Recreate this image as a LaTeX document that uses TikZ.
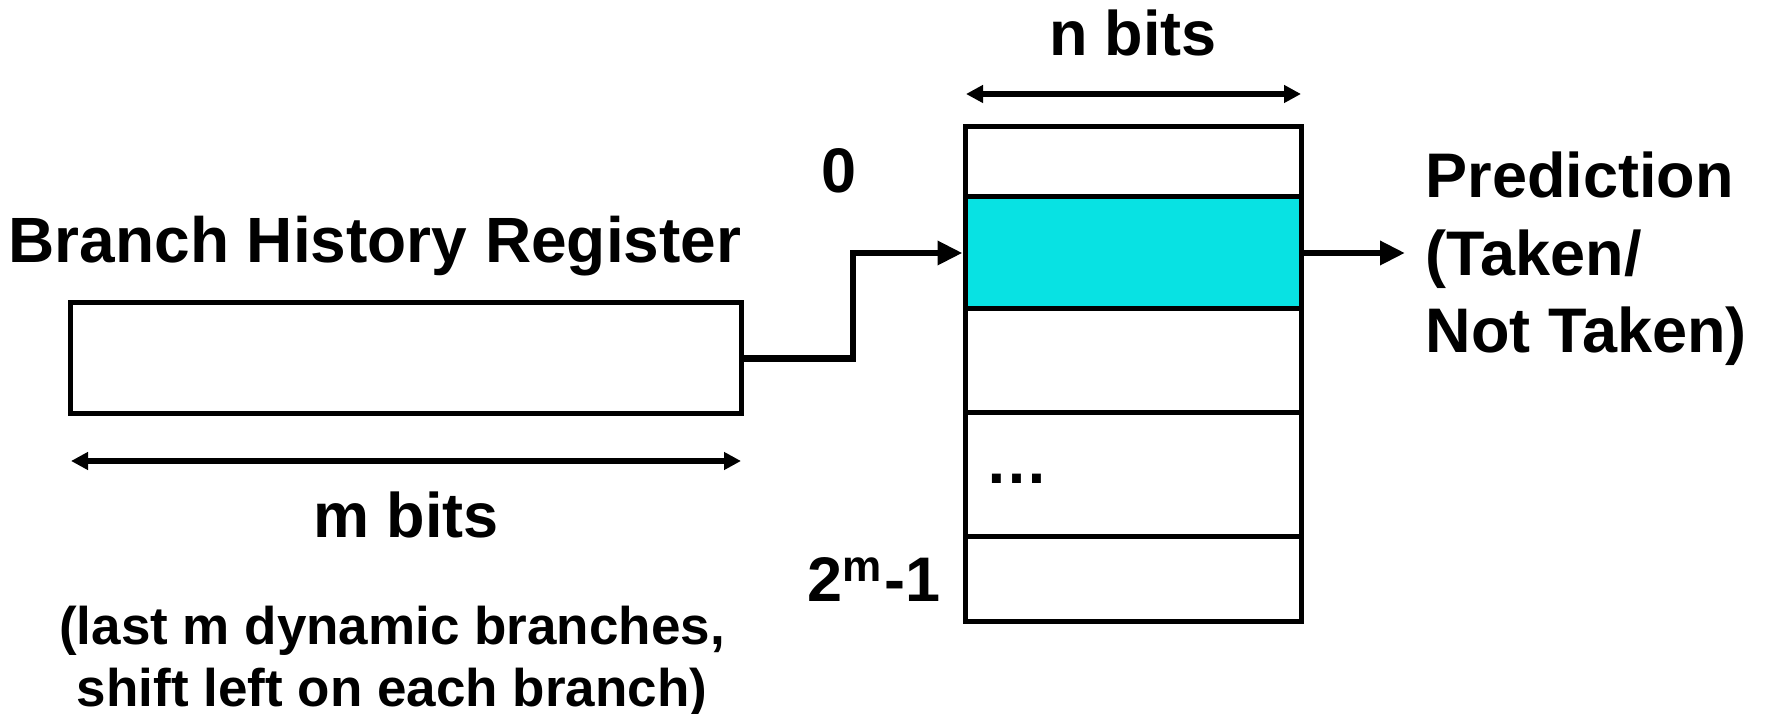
\documentclass[tikz,border=0pt]{standalone}
\usepackage{fontspec}
\setmainfont{Liberation Sans}
\usetikzlibrary{arrows.meta}
\definecolor{cyanrow}{RGB}{8,226,227}
\begin{document}
\begin{tikzpicture}[x=0.25pt,y=-0.25pt,
  txt/.style={font=\fontsize{15.75pt}{19.25pt}\selectfont\bfseries, inner sep=0pt},
  smalltxt/.style={font=\fontsize{13.25pt}{16pt}\selectfont\bfseries, inner sep=0pt},
  cell/.style={draw, line width=1.25pt, minimum width=84pt, inner sep=0pt},
  conn/.style={line width=1.7pt, -{Triangle[length=6.25pt,width=5.75pt]}},
  dimarrow/.style={line width=1.3pt, {Triangle[length=4.25pt,width=4.25pt]}-{Triangle[length=4.25pt,width=4.25pt]}}
]
\useasboundingbox (0,0) rectangle (1765,714);

% Branch history register
\node[draw, line width=1.25pt, minimum width=167.75pt, minimum height=27.75pt, inner sep=0pt]
  (bhr) at (405.5,358.5) {};
\node[txt, font=\fontsize{16pt}{19.5pt}\selectfont\bfseries, anchor=base] (bhrlabel) at (375,263) {Branch History Register};

% m bits dimension
\coordinate (mL) at (71,461);
\coordinate (mR) at (741,461);
\draw[dimarrow] (mL) -- (mR);
\node[txt, anchor=base] (mbits) at (406,538) {m bits};
\node[smalltxt, anchor=base] (note1) at (392,644) {(last m dynamic branches,};
\node[smalltxt, anchor=base] (note2) at (392,707) {shift left on each branch)};

% Pattern history table
\node[cell, fill=cyanrow, minimum height=28pt] (row2) at (1133,253) {};
\node[cell, minimum height=17.5pt] (row1) at (1133,162) {};
\node[cell, minimum height=26pt] (row3) at (1133,361) {};
\node[cell, minimum height=31pt] (row4) at (1133,475) {};
\node[cell, minimum height=21.25pt] (row5) at (1133,579.5) {};

\node[txt, anchor=base west] (dots) at (985,484) {…};
\node[txt, anchor=base] (idx0) at (839,193) {0};
\node[txt, anchor=base] (idxlast) at (874,602) {2\textsuperscript{m}-1};

% n bits dimension
\coordinate (nL) at (966,94);
\coordinate (nR) at (1301,94);
\draw[dimarrow] (nL) -- (nR);
\node[txt, anchor=base] (nbits) at (1133,56) {n bits};

% connectors
\coordinate (bend) at (853,253);
\draw[conn] (bhr.east) -| (bend) -- (row2.west);
\coordinate (out) at (1405,253);
\draw[conn] (row2.east) -- (out);

% prediction label
\node[txt, anchor=base west] (pred1) at (1425,198) {Prediction};
\node[txt, anchor=base west] (pred2) at (1425,276) {(Taken/};
\node[txt, anchor=base west] (pred3) at (1425,353) {Not Taken)};
\end{tikzpicture}
\end{document}
